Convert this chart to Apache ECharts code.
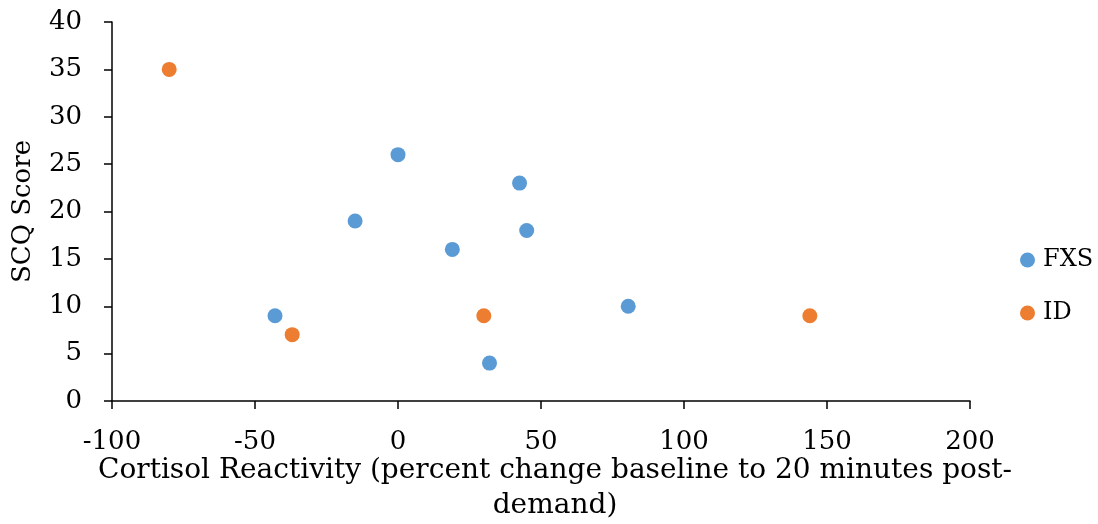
<!DOCTYPE html>
<html>
<head>
<meta charset="utf-8">
<script src="https://cdn.jsdelivr.net/npm/echarts@6/dist/echarts.min.js"></script>
<style>
  html, body { margin: 0; padding: 0; background: #fff; }
  #chart { width: 1098px; height: 524px; }
</style>
</head>
<body>
<div id="chart"></div>
<script>
// Cortisol reactivity (x) vs SCQ score (y), by group
const fxsX = [0, 42.5, -15, 45, 19, 80.5, -43, 32];
const fxsY = [26, 23, 19, 18, 16, 10, 9, 4];
const idX = [-80, -37, 30, 144];
const idY = [35, 7, 9, 9];
const seriesNames = ['FXS', 'ID'];
const xTitle = 'Cortisol Reactivity (percent change baseline to 20 minutes post-\ndemand)';
const yTitle = 'SCQ Score';

const font = '"DejaVu Serif", "Liberation Serif", serif';
const pairs = (xs, ys) => xs.map((x, i) => [x, ys[i]]);

const chart = echarts.init(document.getElementById('chart'), null, { renderer: 'canvas' });
chart.setOption({
  animation: false,
  backgroundColor: '#ffffff',
  textStyle: { fontFamily: font },
  grid: {
    left: 112, right: 128, top: 22, bottom: 123,
    containLabel: false,
    outerBoundsMode: 'none'
  },
  legend: {
    orient: 'vertical',
    left: 1020,
    top: 248,
    padding: 0,
    itemGap: 29,
    itemWidth: 15,
    itemHeight: 15,
    icon: 'circle',
    textStyle: { fontFamily: font, fontSize: 24, color: '#000', padding: [0, 0, 0, 3] },
    data: seriesNames
  },
  xAxis: {
    type: 'value',
    min: -100, max: 200, interval: 50,
    splitLine: { show: false },
    axisLine: { onZero: false, lineStyle: { color: '#000', width: 1.5 } },
    axisTick: { show: true, length: 8, lineStyle: { color: '#000', width: 1.5 } },
    axisLabel: { fontFamily: font, fontSize: 26, color: '#000', margin: 28 },
    name: xTitle,
    nameLocation: 'middle',
    nameGap: 52,
    nameMoveOverlap: false,
    nameTextStyle: { fontFamily: font, fontSize: 28, color: '#000', lineHeight: 35, padding: [0, 0, 0, 28] }
  },
  yAxis: {
    type: 'value',
    min: 0, max: 40, interval: 5,
    splitLine: { show: false },
    axisLine: { show: true, onZero: false, lineStyle: { color: '#000', width: 1.5 } },
    axisTick: { show: true, length: 8, lineStyle: { color: '#000', width: 1.5 } },
    axisLabel: { fontFamily: font, fontSize: 26, color: '#000', margin: 30 },
    name: yTitle,
    nameLocation: 'middle',
    nameGap: 76,
    nameMoveOverlap: false,
    nameTextStyle: { fontFamily: font, fontSize: 26, color: '#000' }
  },
  series: [
    {
      name: seriesNames[0], type: 'scatter', symbolSize: 15,
      itemStyle: { color: '#5B9BD5', opacity: 1 },
      data: pairs(fxsX, fxsY)
    },
    {
      name: seriesNames[1], type: 'scatter', symbolSize: 15,
      itemStyle: { color: '#ED7D31', opacity: 1 },
      data: pairs(idX, idY)
    }
  ]
});
</script>
</body>
</html>
